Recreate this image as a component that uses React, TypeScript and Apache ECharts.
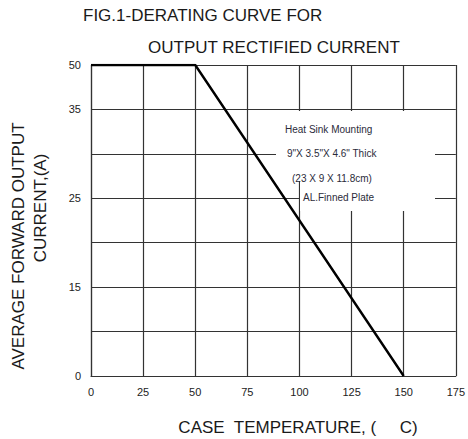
import React, { useEffect, useRef } from "react";
import * as echarts from "echarts";

// Data
const temperatures = [0, 50, 150];
const currents = [50, 50, 0];
const xTicks = [0, 25, 50, 75, 100, 125, 150, 175];
// y grid positions 0..7; labelled positions and their current values
const yTickLabels = ["0", "", "15", "", "25", "", "35", "50"];
const yLabelPositions = [0, 2, 4, 6, 7];
const yLabelValues = [0, 15, 25, 35, 50];
const noteLines = [
  "Heat Sink Mounting",
  '9"X 3.5"X 4.6" Thick',
  "(23 X 9 X 11.8cm)",
  "AL.Finned Plate",
];
const titleLines = ["FIG.1-DERATING CURVE FOR", "OUTPUT RECTIFIED CURRENT"];
const xTitle = "CASE  TEMPERATURE, (     C)";
const yTitleLines = ["AVERAGE FORWARD OUTPUT", "CURRENT,(A)"];

function currentToPos(v: number): number {
  for (let i = 0; i < yLabelValues.length - 1; i++) {
    const a = yLabelValues[i];
    const b = yLabelValues[i + 1];
    if (v >= a && v <= b) {
      const t = (v - a) / (b - a);
      return yLabelPositions[i] + t * (yLabelPositions[i + 1] - yLabelPositions[i]);
    }
  }
  return v <= yLabelValues[0] ? yLabelPositions[0] : yLabelPositions[yLabelPositions.length - 1];
}

const FONT = '"Liberation Sans", Arial, Helvetica, sans-serif';
const GRID = "#333333";

export default function App() {
  const ref = useRef<HTMLDivElement>(null);
  useEffect(() => {
    if (!ref.current) return;
    const chart = echarts.init(ref.current, undefined, { renderer: "svg" });
    const seriesData = temperatures.map((t, i) => [t, currentToPos(currents[i])]);
    const noteX = [285, 287, 292, 303];
    const noteY = [129, 153, 178, 197];
    chart.setOption({
      animation: false,
      backgroundColor: "#ffffff",
      grid: { left: 91, right: 6, top: 65, bottom: 63, containLabel: false },
      xAxis: {
        type: "value",
        min: xTicks[0],
        max: xTicks[xTicks.length - 1],
        interval: 25,
        axisLine: { show: true, lineStyle: { color: GRID, width: 1.2 } },
        axisTick: { show: false },
        splitLine: { show: true, lineStyle: { color: GRID, width: 1.2 } },
        axisLabel: {
          fontSize: 11,
          color: "#222",
          fontFamily: FONT,
          margin: 10,
          showMaxLabel: true,
          showMinLabel: true,
        },
      },
      yAxis: {
        type: "value",
        min: 0,
        max: yTickLabels.length - 1,
        interval: 1,
        axisLine: { show: true, lineStyle: { color: GRID, width: 1.2 } },
        axisTick: { show: false },
        splitLine: { show: true, lineStyle: { color: GRID, width: 1.2 } },
        axisLabel: {
          fontSize: 11,
          color: "#222",
          fontFamily: FONT,
          margin: 10,
          formatter: (v: number) => yTickLabels[Math.round(v)] ?? "",
        },
      },
      graphic: [
        {
          type: "rect",
          z: 50,
          shape: { x: 276, y: 111, width: 159, height: 70 },
          style: { fill: "#ffffff" },
        },
        {
          type: "rect",
          z: 50,
          shape: { x: 300, y: 180, width: 135, height: 31 },
          style: { fill: "#ffffff" },
        },
        ...noteLines.map((t, i) => ({
          type: "text",
          z: 60,
          x: noteX[i],
          y: noteY[i],
          style: {
            text: t,
            fontSize: 10,
            fontFamily: FONT,
            fill: "#2b2b3a",
            textAlign: "left",
            textVerticalAlign: "middle",
          },
        })),
        {
          type: "text",
          z: 60,
          x: 83,
          y: 15,
          style: {
            text: titleLines[0],
            fontSize: 17,
            fontFamily: FONT,
            fill: "#1a1a1a",
            textAlign: "left",
            textVerticalAlign: "middle",
          },
        },
        {
          type: "text",
          z: 60,
          x: 148,
          y: 47,
          style: {
            text: titleLines[1],
            fontSize: 17,
            fontFamily: FONT,
            fill: "#1a1a1a",
            textAlign: "left",
            textVerticalAlign: "middle",
          },
        },
        {
          type: "text",
          z: 60,
          x: 298,
          y: 427,
          style: {
            text: xTitle,
            fontSize: 17,
            fontFamily: FONT,
            fill: "#1a1a1a",
            textAlign: "center",
            textVerticalAlign: "middle",
          },
        },
        {
          type: "text",
          z: 60,
          x: 18,
          y: 246,
          rotation: Math.PI / 2,
          style: {
            text: yTitleLines[0],
            fontSize: 17,
            fontFamily: FONT,
            fill: "#1a1a1a",
            textAlign: "center",
            textVerticalAlign: "middle",
          },
        },
        {
          type: "text",
          z: 60,
          x: 40,
          y: 208,
          rotation: Math.PI / 2,
          style: {
            text: yTitleLines[1],
            fontSize: 17,
            fontFamily: FONT,
            fill: "#1a1a1a",
            textAlign: "center",
            textVerticalAlign: "middle",
          },
        },
      ],
      series: [
        {
          type: "line",
          z: 100,
          data: seriesData,
          symbol: "none",
          lineStyle: { color: "#000000", width: 2.4 },
        },
      ],
    });
    return () => chart.dispose();
  }, []);
  return (
    <div
      ref={ref}
      style={{ position: "fixed", left: 0, top: 0, width: 468, height: 439, background: "#fff" }}
    />
  );
}
